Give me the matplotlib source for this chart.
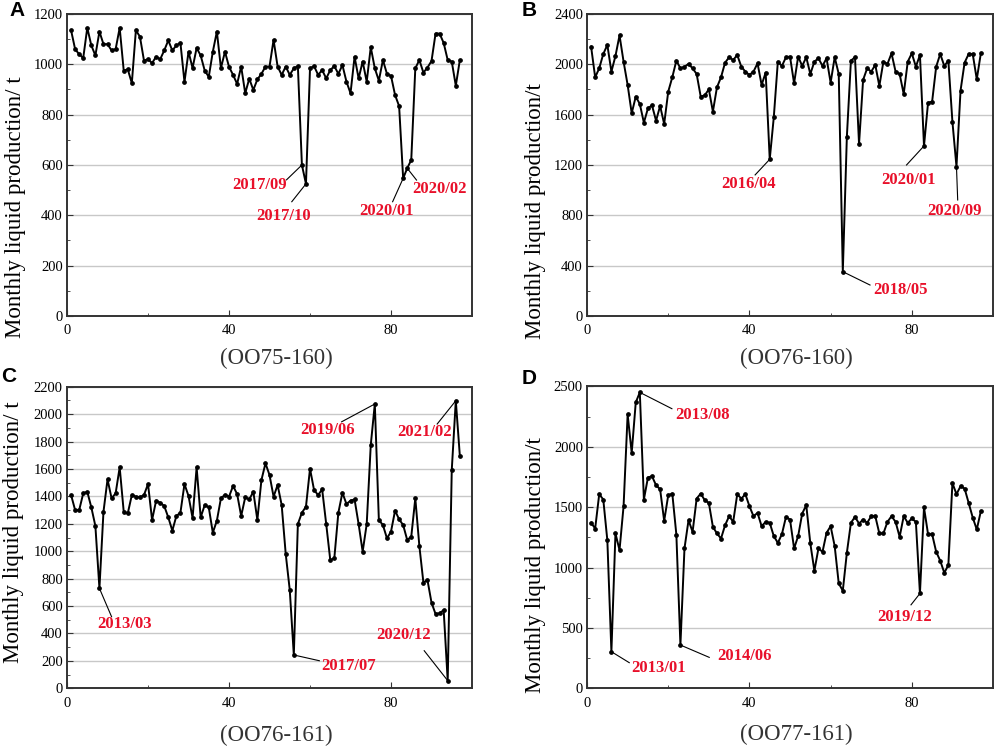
import numpy as np
import matplotlib.pyplot as plt
from matplotlib.ticker import MultipleLocator

plt.rcParams['font.family'] = 'Liberation Serif'

# monthly liquid production (t), month index 1..n
oo75_160 = [1135, 1060, 1040, 1025, 1145, 1075, 1035, 1130, 1080, 1080,
            1055, 1060, 1145, 975, 980, 925, 1135, 1110, 1015, 1020,
            1005, 1030, 1020, 1055, 1095, 1055, 1075, 1085, 930, 1050,
            985, 1065, 1035, 975, 950, 1050, 1130, 985, 1050, 990,
            958, 922, 991, 885, 943, 898, 940, 962, 991, 991,
            1097, 991, 958, 991, 958, 984, 993, 600, 525, 984,
            993, 958, 977, 944, 977, 993, 962, 997, 931, 885,
            1030, 944, 1011, 931, 1068, 984, 935, 1017, 962, 954,
            878, 834, 547, 587, 620, 984, 1017, 967, 987, 1013,
            1122, 1122, 1085, 1017, 1011, 915, 1017]

oo76_160 = [2140, 1897, 1968, 2082, 2154, 1942, 2066, 2230, 2021, 1836,
            1611, 1743, 1685, 1536, 1650, 1674, 1552, 1669, 1526, 1783,
            1897, 2029, 1968, 1981, 2003, 1968, 1923, 1743, 1754, 1801,
            1624, 1817, 1897, 2013, 2056, 2034, 2074, 1981, 1942, 1915,
            1942, 2008, 1836, 1934, 1245, 1579, 2021, 1987, 2056, 2061,
            1849, 2061, 1987, 2056, 1923, 2021, 2048, 1987, 2048, 1854,
            2056, 1923, 352, 1425, 2029, 2056, 1367, 1876, 1968, 1942,
            1995, 1828, 2021, 2003, 2087, 1942, 1923, 1764, 2021, 2087,
            1981, 2074, 1351, 1695, 1703, 1981, 2082, 1987, 2029, 1544,
            1187, 1791, 2013, 2082, 2082, 1881, 2087]

oo76_161 = [1410, 1300, 1300, 1422, 1434, 1320, 1184, 729, 1288, 1524,
            1386, 1422, 1612, 1288, 1276, 1410, 1398, 1393, 1410, 1490,
            1228, 1369, 1354, 1330, 1247, 1150, 1257, 1281, 1490, 1403,
            1242, 1612, 1247, 1337, 1320, 1135, 1223, 1386, 1412, 1398,
            1476, 1417, 1257, 1393, 1378, 1434, 1228, 1519, 1641, 1556,
            1398, 1483, 1337, 980, 717, 243, 1198, 1281, 1325, 1602,
            1446, 1410, 1451, 1198, 936, 948, 1281, 1427, 1344, 1369,
            1378, 1198, 997, 1198, 1775, 2074, 1228, 1191, 1094, 1143,
            1296, 1233, 1191, 1082, 1106, 1386, 1038, 771, 790, 625,
            542, 547, 571, 56, 1592, 2098, 1694]

oo77_161 = [1370, 1323, 1607, 1563, 1226, 303, 1282, 1144, 1508, 2268,
            1949, 2367, 2450, 1563, 1745, 1756, 1681, 1648, 1386, 1598,
            1612, 1273, 358, 1158, 1392, 1295, 1571, 1612, 1557, 1535,
            1337, 1282, 1240, 1350, 1425, 1378, 1607, 1571, 1607, 1508,
            1425, 1452, 1342, 1378, 1370, 1260, 1204, 1276, 1419, 1397,
            1158, 1260, 1447, 1516, 1199, 973, 1158, 1130, 1287, 1342,
            1177, 868, 808, 1122, 1370, 1419, 1364, 1397, 1370, 1425,
            1425, 1282, 1282, 1378, 1425, 1378, 1254, 1425, 1370, 1406,
            1378, 785, 1497, 1276, 1276, 1130, 1056, 956, 1020, 1700,
            1607, 1673, 1654, 1535, 1414, 1315, 1466]

wells = ['(OO75-160)', '(OO76-160)', '(OO76-161)', '(OO77-161)']
letters = ['A', 'B', 'C', 'D']

# label text, month index, end of leader line, text centre
notes_a = [('2017/09', 58, (54.2, 541), (47.5, 520)),
           ('2017/10', 59, (55.5, 454), (53.4, 397)),
           ('2020/01', 83, (80.4, 454), (78.8, 418)),
           ('2020/02', 84, (86.3, 540), (91.9, 503))]
notes_b = [('2016/04', 45, (41.4, 1121), (39.7, 1049)),
           ('2018/05', 63, (69.7, 246), (77.1, 207)),
           ('2020/01', 83, (78.7, 1200), (79.1, 1081)),
           ('2020/09', 91, (91.3, 922), (90.6, 837))]
notes_c = [('2013/03', 8, (11.0, 522), (14.3, 469)),
           ('2017/07', 56, (62.3, 201), (69.5, 163)),
           ('2019/06', 76, (67.8, 1944), (64.3, 1884)),
           ('2021/02', 96, (91.4, 1928), (88.4, 1872)),
           ('2020/12', 94, (88.2, 274), (83.2, 389))]
notes_d = [('2013/08', 13, (20.9, 2315), (28.4, 2262)),
           ('2013/01', 6, (10.4, 212), (17.6, 165)),
           ('2014/06', 23, (30.1, 256), (38.7, 267)),
           ('2019/12', 82, (79.8, 691), (78.2, 592))]

fig = plt.figure(figsize=(9.96, 7.47), dpi=100)

panels = [
    (oo75_160, 1200, 200, 'Monthly liquid production/ t', notes_a,
     [0.0673, 0.577, 0.4066, 0.4043], (-0.128, 0.361), -0.139, (17, 11)),
    (oo76_160, 2400, 400, 'Monthly liquid production/t', notes_b,
     [0.5894, 0.577, 0.4076, 0.4043], (-0.128, 0.348), -0.139, (529, 11)),
    (oo76_161, 2200, 200, 'Monthly liquid production/ t', notes_c,
     [0.0673, 0.0786, 0.4066, 0.4037], (-0.131, 0.519), -0.155, (9, 377)),
    (oo77_161, 2500, 500, 'Monthly liquid production/t', notes_d,
     [0.5894, 0.0786, 0.4076, 0.4042], (-0.128, 0.408), -0.152, (529, 378)),
]

for k, (vals, ymax, ystep, ylab, notes, rect, ylpos, ty, lpos) in enumerate(panels):
    ax = fig.add_axes(rect)
    x = np.arange(1, len(vals) + 1)
    ax.plot(x, vals, '-o', color='black', lw=1.4, ms=2.4, zorder=3)
    ax.set_xlim(0, 100)
    ax.set_ylim(0, ymax)
    ax.xaxis.set_major_locator(MultipleLocator(40))
    ax.xaxis.set_minor_locator(MultipleLocator(20))
    ax.yaxis.set_major_locator(MultipleLocator(ystep))
    ax.yaxis.set_minor_locator(MultipleLocator(ystep / 2))
    ax.grid(axis='y', which='major', color='#c8c8c8', lw=1.0)
    ax.set_axisbelow(True)
    ax.tick_params(which='both', direction='in', top=False, right=False,
                   labelsize=10.5, color='#333333')
    ax.tick_params(which='major', length=4)
    ax.tick_params(which='minor', length=2.5)
    ax.tick_params(axis='x', pad=6)
    ax.tick_params(axis='y', pad=3)
    for s in ax.spines.values():
        s.set_color('#333333')
        s.set_linewidth(1.4)

    ax.text(ylpos[0], ylpos[1], ylab, rotation=90, fontsize=16.5,
            ha='center', va='center', transform=ax.transAxes)
    ax.text(0.516, ty, wells[k], fontsize=16.5, ha='center', va='center',
            transform=ax.transAxes, color='#333333')

    for label, idx, (lx, ly), (tx, tyy) in notes:
        ax.plot([idx, lx], [vals[idx - 1], ly], color='black', lw=0.8, zorder=2)
        ax.text(tx, tyy, label, color='#e8102a', fontsize=12,
                fontweight='bold', ha='center', va='center')

    fig.text(lpos[0] / 996, 1 - lpos[1] / 747, letters[k], fontsize=15,
             fontweight='bold', family='Liberation Sans', ha='center', va='center')

plt.savefig('out.png', dpi=100)
